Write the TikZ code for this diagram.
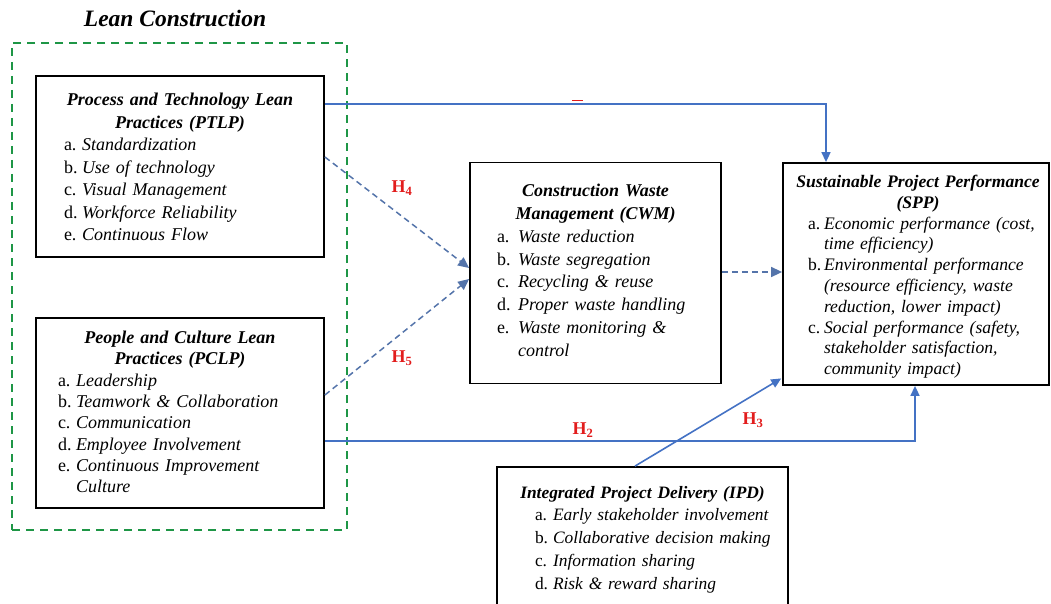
\documentclass[tikz,border=0pt]{standalone}
\usepackage{fontspec}
\setmainfont{Liberation Serif}
\usetikzlibrary{arrows.meta}
\definecolor{arrblue}{RGB}{68,114,196}
\definecolor{dashblue}{RGB}{84,116,170}
\definecolor{leangreen}{RGB}{30,150,70}
\definecolor{hred}{RGB}{226,28,28}
\newlength\lw
\newcommand{\li}[2]{\par\noindent\hangindent=\lw\hangafter=1\makebox[\lw][l]{#1}\textit{#2}}
\newcommand{\boxtitle}[1]{{\centering\bfseries\itshape #1\par}}
\tikzset{
  bx/.style={draw=black, line width=1.8pt, inner sep=0pt, fill=white},
  txt/.style={anchor=north, inner sep=0pt},
  hl/.style={text=hred, inner sep=0pt, font=\fontsize{18}{20}\selectfont\bfseries},
  solidarr/.style={draw=arrblue, line width=1.6pt, -{Triangle[length=10pt,width=9pt]}},
  dasharr/.style={draw=dashblue, line width=1.5pt, dash pattern=on 6pt off 4pt, -{Triangle[length=11pt,width=10pt]}},
}
\begin{document}
\begin{tikzpicture}[x=1pt,y=-1pt]
\useasboundingbox (0,0) rectangle (1051,604);
% Lean construction group
\node[draw=leangreen, line width=2pt, dash pattern=on 8pt off 6pt, minimum width=335pt, minimum height=487pt, inner sep=0pt] (lean) at (179.5,286.5) {};
\node[inner sep=0pt, font=\fontsize{23.5}{26}\selectfont\bfseries\itshape] (leanT) at (175,18) {Lean Construction};
% boxes
\node[bx, minimum width=288pt, minimum height=181pt] (ptlp) at (180,166.5) {};
\node[bx, minimum width=288pt, minimum height=190pt] (pclp) at (180,413) {};
\node[bx, minimum width=251pt, minimum height=221pt] (cwm) at (595.5,273) {};
\node[bx, minimum width=266pt, minimum height=222pt] (spp) at (916,274) {};
\node[bx, minimum width=291pt, minimum height=153pt] (ipd) at (642.5,543.5) {};
% box texts
\node[txt, text width=288pt, font=\fontsize{18}{22.5}\selectfont] (ptlpT) at (180,93) {\boxtitle{Process and Technology Lean\\Practices (PTLP)}\raggedright\leftskip=28pt\setlength\lw{18pt}%
\li{a.}{Standardization}\li{b.}{Use of technology}\li{c.}{Visual Management}\li{d.}{Workforce Reliability}\li{e.}{Continuous Flow}\par};
\node[txt, text width=288pt, font=\fontsize{18}{21.3}\selectfont] (pclpT) at (180,331) {\boxtitle{People and Culture Lean\\Practices (PCLP)}\raggedright\leftskip=22pt\setlength\lw{18pt}%
\li{a.}{Leadership}\li{b.}{Teamwork \& Collaboration}\li{c.}{Communication}\li{d.}{Employee Involvement}\li{e.}{Continuous Improvement\newline Culture}\par};
\node[txt, text width=251pt, font=\fontsize{18}{22.8}\selectfont] (cwmT) at (595.5,184) {\boxtitle{Construction Waste\\Management (CWM)}\raggedright\leftskip=27pt\setlength\lw{21pt}%
\li{a.}{Waste reduction}\li{b.}{Waste segregation}\li{c.}{Recycling \& reuse}\li{d.}{Proper waste handling}\li{e.}{Waste monitoring \&\newline control}\par};
\node[txt, text width=266pt, font=\fontsize{17.6}{20.8}\selectfont] (sppT) at (918,175) {\boxtitle{Sustainable Project Performance\\(SPP)}\raggedright\leftskip=23pt\setlength\lw{16pt}%
\li{a.}{Economic performance (cost,\newline time efficiency)}\li{b.}{Environmental performance\newline (resource efficiency, waste\newline reduction, lower impact)}\li{c.}{Social performance (safety,\newline stakeholder satisfaction,\newline community impact)}\par};
\node[txt, text width=291pt, font=\fontsize{17.4}{22.7}\selectfont] (ipdT) at (642.5,486) {\boxtitle{Integrated Project Delivery (IPD)}\raggedright\leftskip=38pt\setlength\lw{18pt}%
\li{a.}{Early stakeholder involvement}\li{b.}{Collaborative decision making}\li{c.}{Information sharing}\li{d.}{Risk \& reward sharing}\par};
% bend coordinates
\coordinate (k1) at (826,104);
\coordinate (k2) at (915,441);
\coordinate (k3) at (635,0);
\coordinate (d1) at (0,157);
\coordinate (d2) at (0,268);
\coordinate (d3) at (0,395);
\coordinate (d4) at (0,279);
\coordinate (d5) at (0,272);
% connectors
\draw[solidarr] (ptlp.east |- k1) -- (k1) -- (k1 |- spp.north);
\draw[solidarr] (pclp.east |- k2) -- (k2) -- (k2 |- spp.south);
\draw[solidarr, shorten >=1pt] (ipd.north -| k3) -- ([yshift=8pt]spp.south west);
\draw[dasharr] (ptlp.east |- d1) -- (cwm.west |- d2);
\draw[dasharr] (pclp.east |- d3) -- (cwm.west |- d4);
\draw[dasharr] (cwm.east |- d5) -- (spp.west |- d5);
% stray red mark
\coordinate (r1) at (572,100);
\coordinate (r2) at (583,100);
\draw[hred, line width=0.8pt] (r1) -- (r2);
% labels
\node[hl] (h4) at (402,188) {H\textsubscript{4}};
\node[hl] (h5) at (402,358) {H\textsubscript{5}};
\node[hl] (h2) at (583,430) {H\textsubscript{2}};
\node[hl] (h3) at (753,420) {H\textsubscript{3}};
\end{tikzpicture}
\end{document}
